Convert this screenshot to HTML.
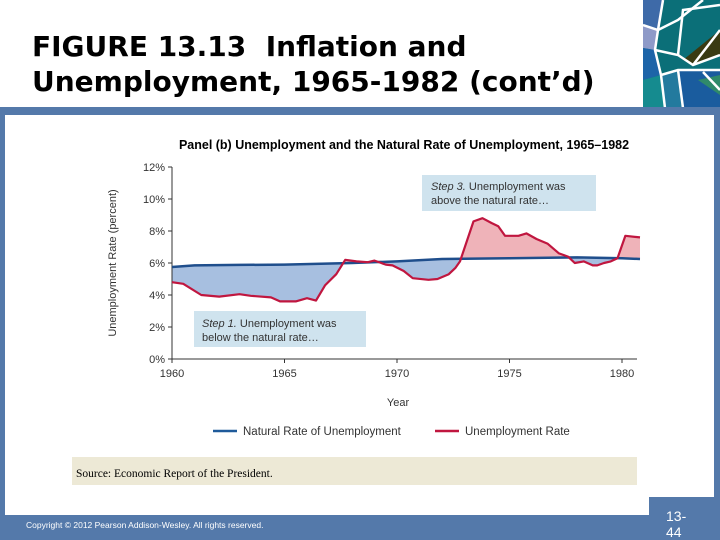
<!DOCTYPE html>
<html><head><meta charset="utf-8"><style>
body{margin:0;width:720px;height:540px;overflow:hidden;background:#fff;font-family:"Liberation Sans",sans-serif;position:relative}
.abs{position:absolute}
</style></head><body>
<div class="abs" style="left:32px;top:29px;font:bold 28px 'DejaVu Sans',sans-serif;line-height:35px;color:#000;white-space:nowrap">FIGURE 13.13&nbsp; Inflation and<br>Unemployment, 1965-1982 (cont’d)</div>
<svg class="abs" style="left:643px;top:0" width="77" height="108">
<rect width="77" height="108" fill="#0b6f78"/>
<polygon points="0,0 20,0 15,30 0,25" fill="#3e6aa8"/>
<polygon points="0,25 15,30 12,50 0,48" fill="#8e9ac8"/>
<polygon points="0,48 12,50 18,75 0,80" fill="#1d64a8"/>
<polygon points="0,80 18,75 22,108 0,108" fill="#158b8f"/>
<polygon points="40,60 77,30 77,55 50,65" fill="#3a3a12"/>
<polygon points="30,70 77,70 77,108 35,108" fill="#1a5c9e"/>
<polygon points="18,75 35,70 40,108 22,108" fill="#237a9e"/>
<polygon points="55,80 77,75 77,95" fill="#2f8a6a"/>
<g stroke="#fff" stroke-width="2.5" fill="none"><path d="M20,0 15,30 12,50 18,75 22,108"/><path d="M0,25 15,30 35,20 60,0"/><path d="M12,50 35,55 50,65 77,55"/><path d="M18,75 35,70 77,70"/><path d="M35,55 40,10 77,5"/><path d="M50,65 77,30"/><path d="M35,70 40,108"/><path d="M60,72 77,90"/></g>
</svg>
<div class="abs" style="left:0;top:107px;width:720px;height:8px;background:#5479aa"></div>
<div class="abs" style="left:0;top:107px;width:5px;height:433px;background:#5479aa"></div>
<div class="abs" style="left:714px;top:107px;width:6px;height:433px;background:#5479aa"></div>
<div class="abs" style="left:0;top:515px;width:720px;height:25px;background:#5479aa"></div>
<div class="abs" style="left:649px;top:497px;width:71px;height:43px;background:#5479aa"></div>
<div class="abs" style="left:26px;top:520px;font-size:8.5px;color:#fff">Copyright © 2012 Pearson Addison-Wesley. All rights reserved.</div>
<div class="abs" style="left:666px;top:508px;font-size:14px;line-height:16px;color:#fff">13-<br>44</div>
<div class="abs" style="left:72px;top:457px;width:565px;height:28px;background:#ede9d6;font:11.5px 'Liberation Serif',serif;line-height:34px;text-indent:4px">Source: Economic Report of the President.</div>
<svg class="abs" id="chart" style="left:0;top:0" width="720" height="455"></svg>
<script>
const uYears=[1960,1960.5,1961.3,1962.1,1963,1963.5,1964.4,1964.8,1965.5,1966,1966.4,1966.8,1967.3,1967.7,1968.2,1968.7,1969,1969.5,1969.8,1970.3,1970.7,1971.4,1971.8,1972.3,1972.6,1972.8,1973.4,1973.8,1974.2,1974.5,1974.8,1975.4,1975.75,1976.2,1976.7,1977.2,1977.6,1977.9,1978.3,1978.7,1978.9,1979.2,1979.5,1979.8,1980.15,1980.8];
const uValues=[4.8,4.7,4.0,3.9,4.05,3.95,3.85,3.6,3.6,3.8,3.65,4.6,5.3,6.2,6.1,6.05,6.15,5.9,5.85,5.5,5.05,4.95,5.0,5.3,5.7,6.1,8.6,8.8,8.5,8.3,7.7,7.7,7.85,7.5,7.2,6.6,6.4,6.0,6.1,5.85,5.85,6.0,6.1,6.3,7.7,7.6];
const nYears=[1960,1961,1963,1965,1968,1970,1972,1975,1978,1980,1980.8];
const nValues=[5.75,5.85,5.88,5.9,6.0,6.1,6.25,6.3,6.35,6.3,6.25];
const yTicks=[0,2,4,6,8,10,12];
const xTicks=[1960,1965,1970,1975,1980];
const NS="http://www.w3.org/2000/svg";
const svg=document.getElementById('chart');
const X=y=>172+(y-1960)*22.5, Y=v=>359-v*16;
function el(t,a,txt){const e=document.createElementNS(NS,t);for(const k in a)e.setAttribute(k,a[k]);if(txt!=null)e.textContent=txt;svg.appendChild(e);return e;}
const uPts=uYears.map((y,i)=>X(y)+','+Y(uValues[i]));
const nPts=nYears.map((y,i)=>X(y)+','+Y(nValues[i]));
const defs=el('defs',{});
const cA=document.createElementNS(NS,'clipPath');cA.setAttribute('id','above');defs.appendChild(cA);
const pa=document.createElementNS(NS,'polygon');pa.setAttribute('points',nPts.join(' ')+' '+X(1980.8)+',0 '+X(1960)+',0');cA.appendChild(pa);
const cB=document.createElementNS(NS,'clipPath');cB.setAttribute('id','below');defs.appendChild(cB);
const pb=document.createElementNS(NS,'polygon');pb.setAttribute('points',nPts.join(' ')+' '+X(1980.8)+',455 '+X(1960)+',455');cB.appendChild(pb);
const area=uPts.concat(nPts.slice().reverse()).join(' ');
let a=el('polygon',{points:area,fill:'#efb3b9','clip-path':'url(#above)'});

a=el('polygon',{points:area,fill:'#a7bfe0','clip-path':'url(#below)'});

let t=el('text',{x:404,y:149,'font-size':'12.5','font-weight':'bold','text-anchor':'middle'},'Panel (b) Unemployment and the Natural Rate of Unemployment, 1965–1982');

let l=el('line',{x1:172,y1:167,x2:172,y2:359,stroke:'#333','stroke-width':1});

l=el('line',{x1:172,y1:359,x2:637,y2:359,stroke:'#333','stroke-width':1});

yTicks.forEach(v=>{
 const tk=el('line',{x1:168,y1:Y(v),x2:172,y2:Y(v),stroke:'#333'});
 
 const tl=el('text',{x:165,y:Y(v)+4,'font-size':'11','text-anchor':'end',fill:'#333'},v+'%');
 
});
xTicks.forEach(v=>{
 const tk=el('line',{x1:X(v),y1:359,x2:X(v),y2:363,stroke:'#333'});
 
 const tl=el('text',{x:X(v),y:377,'font-size':'11','text-anchor':'middle',fill:'#333'},v);
 
});
t=el('text',{x:116,y:263,'font-size':'11','text-anchor':'middle',transform:'rotate(-90 116 263)',fill:'#333'},'Unemployment Rate (percent)');

t=el('text',{x:398,y:406,'font-size':'11','text-anchor':'middle',fill:'#333'},'Year');

let p=el('polyline',{points:nPts.join(' '),fill:'none',stroke:'#1f4e8c','stroke-width':2.5});

p=el('polyline',{points:uPts.join(' '),fill:'none',stroke:'#c0163f','stroke-width':2.2,'stroke-linejoin':'round'});

let r=el('rect',{x:422,y:175,width:174,height:36,fill:'#cfe3ee'});

t=el('text',{x:431,y:190,'font-size':'11',fill:'#333'});t.innerHTML='<tspan font-style="italic">Step 3.</tspan> Unemployment was';

t=el('text',{x:431,y:204,'font-size':'11',fill:'#333'},'above the natural rate…');

r=el('rect',{x:194,y:311,width:172,height:36,fill:'#cfe3ee'});

t=el('text',{x:202,y:327,'font-size':'11',fill:'#333'});t.innerHTML='<tspan font-style="italic">Step 1.</tspan> Unemployment was';

t=el('text',{x:202,y:341,'font-size':'11',fill:'#333'},'below the natural rate…');

l=el('line',{x1:213,y1:431,x2:237,y2:431,stroke:'#1f5a9a','stroke-width':2.5});

t=el('text',{x:243,y:435,'font-size':'11.5',fill:'#333'},'Natural Rate of Unemployment');

l=el('line',{x1:435,y1:431,x2:459,y2:431,stroke:'#c0163f','stroke-width':2.5});

t=el('text',{x:465,y:435,'font-size':'11.5',fill:'#333'},'Unemployment Rate');

</script>
</body></html>
